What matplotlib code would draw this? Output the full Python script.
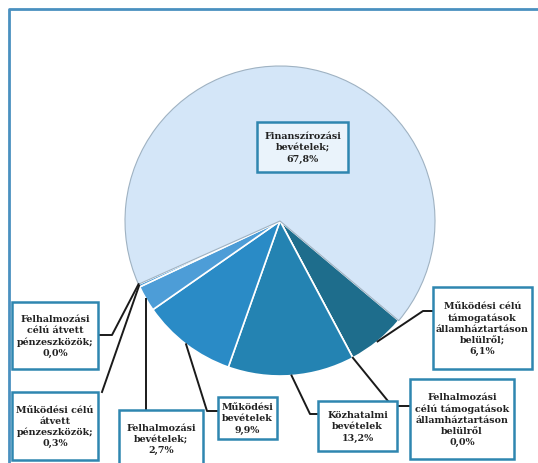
import numpy as np
import matplotlib
matplotlib.use('Agg')
import matplotlib.pyplot as plt
from matplotlib.patches import Rectangle

matplotlib.rcParams['font.family'] = ['DejaVu Serif']

# data (clockwise from the right side, as in the original Excel chart)
labels = [
    'Működési célú\ntámogatások\nállamháztartáson\nbelülről;',
    'Felhalmozási\ncélú támogatások\nállamháztartáson\nbelülről',
    'Közhatalmi\nbevételek',
    'Működési\nbevételek',
    'Felhalmozási\nbevételek;',
    'Működési célú\nátvett\npénzeszközök;',
    'Felhalmozási\ncélú átvett\npénzeszközök;',
    'Finanszírozási\nbevételek;',
]
values = [6.1, 0.0, 13.2, 9.9, 2.7, 0.3, 0.0, 67.8]
colors = ['#1e6d8c', '#1e6d8c', '#2483b2', '#2a8bc6', '#4d9dd7', '#4d9dd7', '#4d9dd7', '#d4e6f8']

W, H = 538, 464
def Y(y):
    return H - y

# label box layout in pixels: (x0, y0, x1, y1), elbow points of leader line
boxes = [
    (433, 288, 532, 370),
    (410, 380, 514, 460),
    (318, 402, 397, 452),
    (218, 398, 277, 440),
    (119, 411, 203, 468),
    (12, 393, 98, 461),
    (12, 303, 98, 370),
    (257, 123, 348, 173),
]
elbows = [
    [(423, 312), (433, 312)],
    [(392, 407), (410, 407)],
    [(310, 415), (318, 415)],
    [(207, 412), (218, 412)],
    'down',
    [(102, 393)],
    [(112, 336), (98, 336)],
    None,
]

fig = plt.figure(figsize=(W / 100, H / 100), dpi=100)
ax = fig.add_axes([0, 0, 1, 1])

cx, cy, r = 280, 222, 155
wedges, _ = ax.pie(values, colors=colors, startangle=-40, counterclock=False,
                   center=(cx, Y(cy)), radius=r, frame=True,
                   wedgeprops=dict(edgecolor='white', linewidth=1.2))
wedges[-1].set_edgecolor('#9fb2c2')
wedges[-1].set_linewidth(0.8)
ax.set_xlim(0, W)
ax.set_ylim(0, H)
ax.axis('off')

# frame of the scanned chart
ax.plot([9, 9, W], [Y(464), Y(10), Y(10)], color='#4a90c0', lw=2, solid_capstyle='butt')

for w, lab, v, box, elb in zip(wedges, labels, values, boxes, elbows):
    x0, y0, x1, y1 = box
    fc = '#eaf3fb' if elb is None else 'white'
    ax.add_patch(Rectangle((x0, Y(y1)), x1 - x0, y1 - y0, facecolor=fc,
                           edgecolor='#2f86b0', lw=1.8, zorder=3))
    txt = lab + '\n' + f'{v:.1f}'.replace('.', ',') + '%'
    ax.text((x0 + x1) / 2, Y((y0 + y1) / 2), txt, ha='center', va='center',
            fontsize=6.8, fontweight='bold', color='#222222', linespacing=1.3, zorder=4)
    if elb is None:
        continue
    mid = np.deg2rad((w.theta1 + w.theta2) / 2)
    px, py = cx + r * np.cos(mid), Y(cy) + r * np.sin(mid)
    if elb == 'down':
        xs, ys = [px, px], [py, Y(y0)]
    else:
        xs = [px] + [p[0] for p in elb]
        ys = [py] + [Y(p[1]) for p in elb]
    ax.plot(xs, ys, color='#1a1a1a', lw=1.4, zorder=2)

fig.savefig('out.png', dpi=100, facecolor='white')
